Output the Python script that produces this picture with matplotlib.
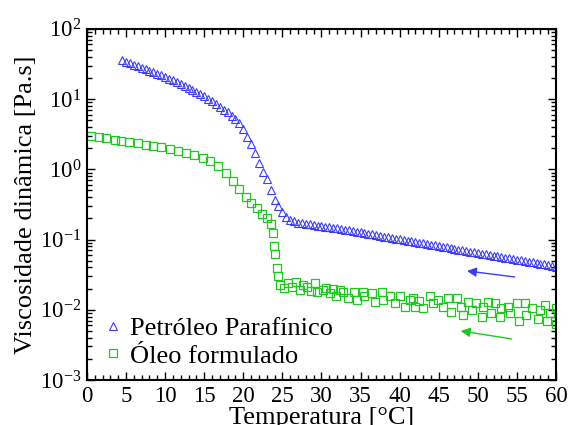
import matplotlib
matplotlib.use("Agg")
import matplotlib.pyplot as plt
from matplotlib.ticker import MultipleLocator, LogLocator, NullFormatter

plt.rcParams['font.family'] = ['Liberation Serif', 'DejaVu Serif']
plt.rcParams['mathtext.fontset'] = 'custom'
plt.rcParams['mathtext.rm'] = 'Liberation Serif'
plt.rcParams['mathtext.it'] = 'Liberation Serif:italic'
plt.rcParams['mathtext.default'] = 'regular'

# Petróleo parafínico: temperature sweep (°C) and dynamic viscosity (Pa.s)
temp_petroleo = [
    4.5, 5.0, 5.5, 6.0, 6.5, 7.0, 7.5, 8.0, 8.5, 9.0, 9.5, 10.0, 10.5, 11.0,
    11.5, 12.0, 12.5, 13.0, 13.5, 14.0, 14.5, 15.0, 15.5, 16.0, 16.5, 17.0,
    17.5, 18.0, 18.5, 19.0, 19.5, 20.0, 20.5, 21.0, 21.5, 22.0, 22.5, 23.0,
    23.5, 24.0, 24.5, 25.0, 25.5, 26.0, 26.5, 27.0, 27.5, 28.0, 28.5, 29.0,
    29.5, 30.0, 30.5, 31.0, 31.5, 32.0, 32.5, 33.0, 33.5, 34.0, 34.5, 35.0,
    35.5, 36.0, 36.5, 37.0, 37.5, 38.0, 38.5, 39.0, 39.5, 40.0, 40.5, 41.0,
    41.5, 42.0, 42.5, 43.0, 43.5, 44.0, 44.5, 45.0, 45.5, 46.0, 46.5, 47.0,
    47.5, 48.0, 48.5, 49.0, 49.5, 50.0, 50.5, 51.0, 51.5, 52.0, 52.5, 53.0,
    53.5, 54.0, 54.5, 55.0, 55.5, 56.0, 56.5, 57.0, 57.5, 58.0, 58.5, 59.0,
    59.5, 60.0]
visc_petroleo = [
    36.0, 34.2, 32.5, 31.0, 29.5, 28.1, 26.7, 25.4, 24.1, 22.9, 21.7, 20.6,
    19.6, 18.7, 17.8, 16.6, 15.6, 14.6, 13.7, 12.7, 11.7, 10.9, 10.1, 9.3,
    8.5, 7.8, 7.1, 6.5, 5.8, 5.2, 4.6, 3.8, 2.9, 2.3, 1.7, 1.23, 0.93, 0.72,
    0.51, 0.37, 0.30, 0.25, 0.21, 0.19, 0.182, 0.174, 0.171, 0.167, 0.164,
    0.161, 0.158, 0.155, 0.152, 0.149, 0.146, 0.1436, 0.141, 0.138, 0.135,
    0.132, 0.129, 0.126, 0.123, 0.121, 0.118, 0.1153, 0.1127, 0.110, 0.1077,
    0.1054, 0.103, 0.1007, 0.0984, 0.0962, 0.0942, 0.092, 0.090, 0.088,
    0.086, 0.084, 0.0824, 0.0805, 0.0788, 0.0771, 0.0754, 0.0738, 0.0721,
    0.0706, 0.0690, 0.0675, 0.0661, 0.0646, 0.0632, 0.0618, 0.0605, 0.0591,
    0.0578, 0.0565, 0.0553, 0.0541, 0.0529, 0.0518, 0.0506, 0.0495, 0.0484,
    0.0473, 0.0463, 0.0453, 0.0443, 0.0433, 0.0423, 0.0412]

# Óleo formulado
temp_oleo = [
    0.5, 1.5, 2.5, 3.6, 4.4, 5.4, 6.5, 7.6, 8.5, 9.5, 10.6, 11.7, 12.7, 13.7,
    14.8, 15.8, 16.8, 17.8, 18.7, 19.5, 20.3, 21.0, 21.7, 22.4, 23.0, 23.6,
    23.8, 23.9, 24.0, 24.25, 24.5, 24.7, 25.2, 25.7, 26.2, 26.8, 27.2, 27.6,
    28.1, 28.6, 29.2, 29.4, 30.2, 30.6, 31.1, 31.5, 31.9, 32.4, 32.8, 33.4,
    34.1, 34.5, 35.3, 35.5, 36.4, 36.8, 37.7, 37.9, 38.7, 39.4, 40.0, 40.7,
    41.3, 41.7, 41.9, 42.5, 43.0, 43.9, 44.3, 44.9, 45.6, 46.2, 46.6, 47.3,
    47.9, 48.1, 48.7, 49.2, 49.8, 50.5, 50.7, 51.3, 51.7, 52.2, 52.8, 53.0,
    53.9, 54.1, 55.0, 55.2, 56.0, 56.2, 56.9, 57.7, 57.9, 58.6, 58.8, 59.2,
    60.0, 60.0]
visc_oleo = [
    2.95, 2.85, 2.75, 2.65, 2.55, 2.45, 2.35, 2.25, 2.15, 2.05, 1.92, 1.82,
    1.72, 1.60, 1.46, 1.30, 1.13, 0.90, 0.68, 0.52, 0.41, 0.33, 0.28, 0.23,
    0.20, 0.166, 0.123, 0.082, 0.063, 0.039, 0.030, 0.0226, 0.0205, 0.024,
    0.0213, 0.025, 0.019, 0.0225, 0.0213, 0.0185, 0.024, 0.018, 0.019,
    0.0205, 0.0172, 0.0196, 0.0155, 0.019, 0.018, 0.0145, 0.018, 0.0138,
    0.018, 0.0155, 0.0172, 0.013, 0.018, 0.0138, 0.0155, 0.0123, 0.0155,
    0.0111, 0.0138, 0.0145, 0.0111, 0.0135, 0.0105, 0.0155, 0.0123, 0.0138,
    0.0111, 0.0145, 0.0093, 0.0145, 0.0111, 0.0085, 0.013, 0.0100, 0.0125,
    0.008, 0.0111, 0.013, 0.0089, 0.0123, 0.008, 0.0105, 0.0111, 0.0089,
    0.0123, 0.0068, 0.0123, 0.0085, 0.0105, 0.0075, 0.0100, 0.0118, 0.0068,
    0.0089, 0.0105, 0.0063]

# Cooling-direction arrows: (tail T, tail visc, head T, head visc)
seta_petroleo = [54.7, 0.0293, 48.6, 0.0357]
seta_oleo = [54.3, 0.00384, 47.8, 0.0050]

azul = '#3c3cff'
verde = '#1ec81e'

fig = plt.figure(figsize=(5.68, 4.25), dpi=100)
ax = fig.add_axes([0.153, 0.106, 0.826, 0.826])

ax.plot(temp_petroleo, visc_petroleo, linestyle='none', marker='^',
        markersize=6.2, markerfacecolor='none', markeredgecolor=azul,
        markeredgewidth=0.8, label='Petróleo Parafínico')
ax.plot(temp_oleo, visc_oleo, linestyle='none', marker='s',
        markersize=6.4, markerfacecolor='none', markeredgecolor=verde,
        markeredgewidth=0.9, label='Óleo formulado')

for seta, cor in ((seta_petroleo, azul), (seta_oleo, verde)):
    ax.annotate('', xy=(seta[2], seta[3]), xytext=(seta[0], seta[1]),
                arrowprops=dict(arrowstyle='-|>', color=cor, lw=1.0,
                                mutation_scale=14, shrinkA=0, shrinkB=0))

ax.set_yscale('log')
ax.set_xlim(0, 60)
ax.set_ylim(1e-3, 1e2)

ax.xaxis.set_major_locator(MultipleLocator(5))
ax.xaxis.set_minor_locator(MultipleLocator(1))
ax.yaxis.set_major_locator(LogLocator(base=10, numticks=10))
ax.yaxis.set_minor_locator(LogLocator(base=10, subs=range(2, 10), numticks=10))
ax.yaxis.set_minor_formatter(NullFormatter())

ax.tick_params(which='both', direction='in', top=True, right=True,
               labelsize=16.5, width=1.0)
ax.tick_params(which='major', length=6, pad=4)
ax.tick_params(which='minor', length=3.5)
for sp in ax.spines.values():
    sp.set_linewidth(1.5)

ax.set_xlabel('Temperatura [°C]', fontsize=19, labelpad=0.5)
ax.set_ylabel('Viscosidade dinâmica [Pa.s]', fontsize=19, labelpad=2)

ax.legend(loc='lower left', bbox_to_anchor=(0.038, 0.035), frameon=False,
          fontsize=19, handlelength=0.6, handletextpad=0.34,
          labelspacing=0.16, borderpad=0.0, borderaxespad=0.0,
          markerscale=1.0)

fig.savefig('out.png', dpi=100)
